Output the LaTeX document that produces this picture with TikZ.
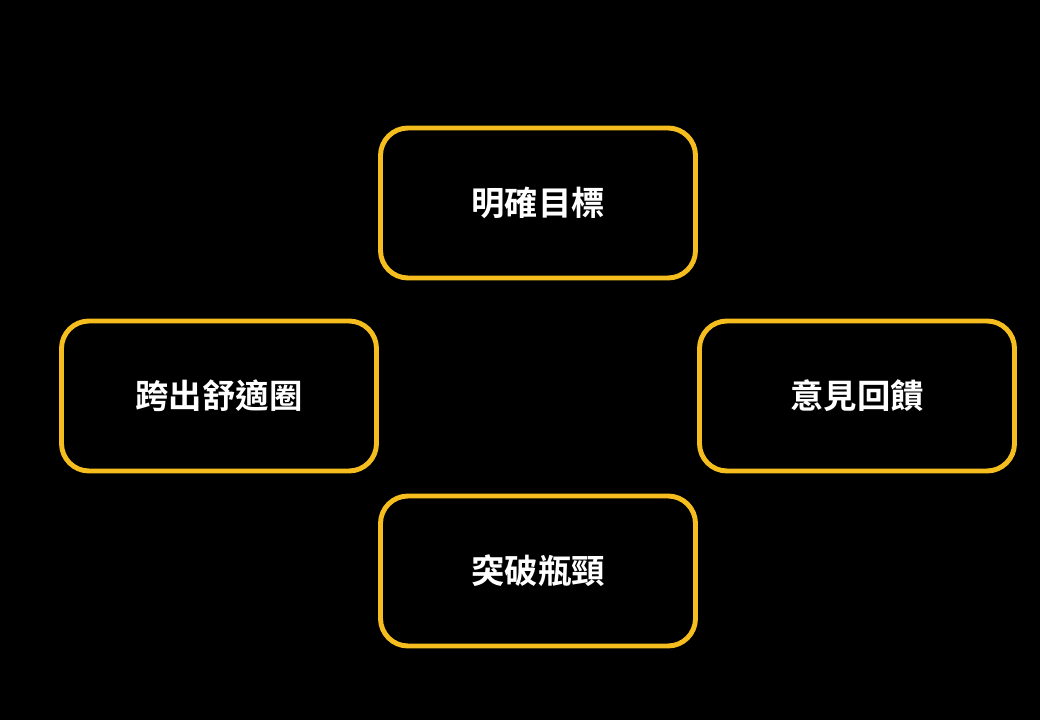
\documentclass[tikz,border=0pt]{standalone}
\usepackage{fontspec}
\newfontfamily\cjk{Noto Sans CJK TC}[BoldFont={* Bold}]
\begin{document}
\begin{tikzpicture}[every node/.style={font=\cjk\bfseries\fontsize{19}{22}\selectfont, text=white}]
  \definecolor{coulbord}{HTML}{F5BE1E}
  \tikzstyle{goal}=[draw=coulbord, line width=2.8pt, rounded corners=0.55cm, minimum width=6.3cm, minimum height=3.0cm]
  \fill[black] (0,0) rectangle (20.8,14.4);
  \node[goal] (target) at (10.76, 10.34) {明確目標};
  \node[goal] (comfort) at (4.38, 6.48) {跨出舒適圈};
  \node[goal] (feedback) at (17.14, 6.48) {意見回饋};
  \node[goal] (bottleneck) at (10.76, 2.98) {突破瓶頸};
\end{tikzpicture}
\end{document}
